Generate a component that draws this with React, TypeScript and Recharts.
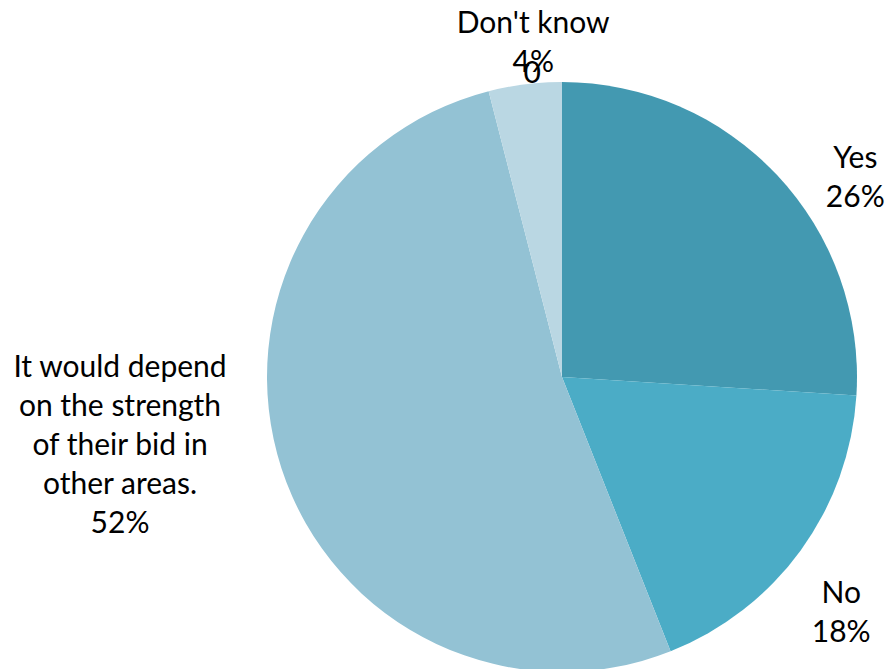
import React from 'react';
import { PieChart, Pie, Cell } from 'recharts';

document.body.style.margin = '0';

const categories = [
  'Yes',
  'No',
  'It would depend on the strength of their bid in other areas.',
  "Don't know",
  '',
];
const shares = [26, 18, 52, 4, 0];
const colors = ['#4399B1', '#4BACC6', '#93C2D4', '#BAD7E3', '#FFFFFF'];

// label text lines, wrapped the way the original chart wraps them
const labelLines = [
  ['Yes', '26%'],
  ['No', '18%'],
  ['It would depend', 'on the strength', 'of their bid in', 'other areas.', '52%'],
  ["Don't know", '4%'],
  ['0'],
];

// where each label sits: distance past the rim and polar angle (deg, ccw from 3 o'clock)
const labelPlacement = [
  { extra: 60, angle: 34.3 },
  { extra: 70, angle: -40.1 },
  { extra: 152, angle: 188.6 },
  { extra: 42, angle: 94.9 },
  { extra: 11, angle: 95.6 },
];

const data = categories.map((name, i) => ({ name, value: shares[i] }));

const FONT = 'Lato, "Open Sans", sans-serif';
const FONT_SIZE = 30;
const LINE_H = 39;

const renderLabel = (props: any) => {
  const { cx, cy, outerRadius, index } = props;
  const place = labelPlacement[index];
  const lines = labelLines[index];
  const rad = (place.angle * Math.PI) / 180;
  const r = outerRadius + place.extra;
  const x = cx + r * Math.cos(rad);
  const y = cy - r * Math.sin(rad);
  const firstBaseline = y - ((lines.length - 1) * LINE_H) / 2 + FONT_SIZE * 0.36;
  return (
    <text
      key={`lbl-${index}`}
      x={x}
      y={firstBaseline}
      textAnchor="middle"
      fill="#000"
      fontFamily={FONT}
      fontSize={FONT_SIZE}
    >
      {lines.map((t, j) => (
        <tspan key={j} x={x} y={firstBaseline + j * LINE_H}>
          {t}
        </tspan>
      ))}
    </text>
  );
};

export default function App() {
  return (
    <div style={{ width: 887, height: 669, background: '#fff' }}>
      <PieChart width={887} height={669} margin={{ top: 0, right: 0, bottom: 0, left: 0 }}>
        <Pie
          data={data}
          dataKey="value"
          nameKey="name"
          cx={562}
          cy={377}
          outerRadius={295}
          startAngle={90}
          endAngle={-270}
          stroke="none"
          label={renderLabel}
          labelLine={false}
          minAngle={0}
          isAnimationActive={false}
        >
          {data.map((d, i) => (
            <Cell key={d.name + i} fill={colors[i]} />
          ))}
        </Pie>
      </PieChart>
    </div>
  );
}
